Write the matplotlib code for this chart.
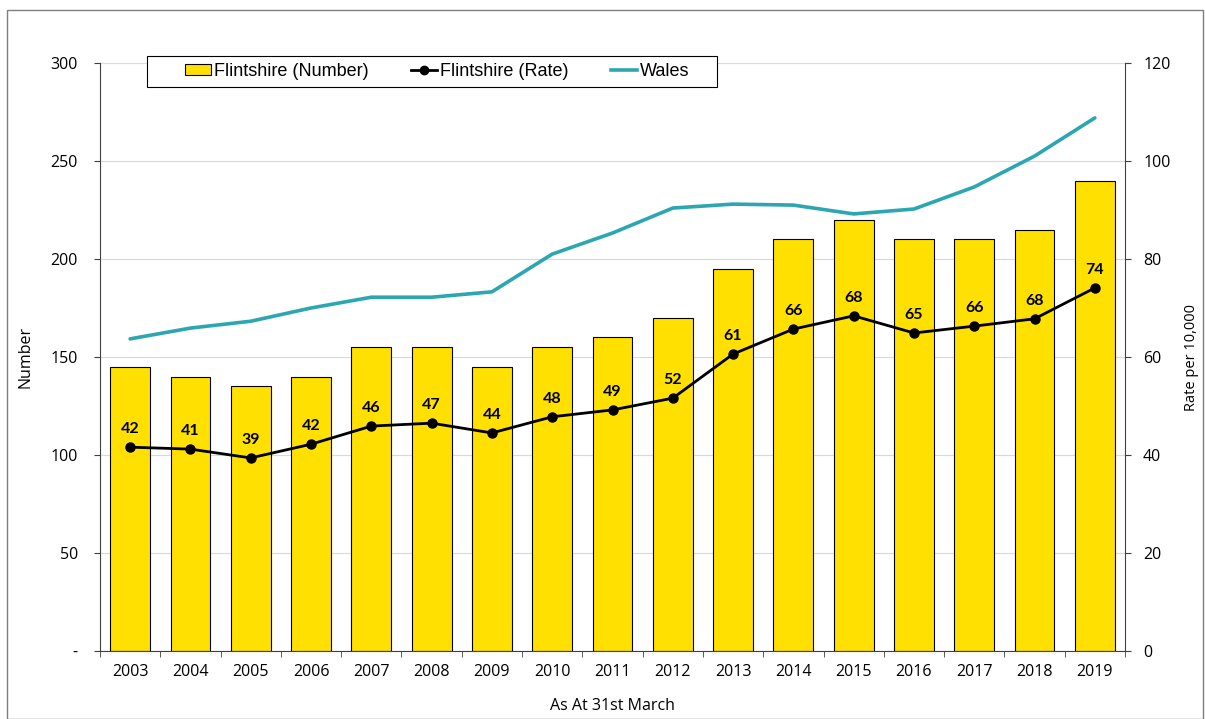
import matplotlib
matplotlib.use("Agg")
import matplotlib.pyplot as plt
from matplotlib.patches import Rectangle
from matplotlib.lines import Line2D
import numpy as np

years = ["2003", "2004", "2005", "2006", "2007", "2008", "2009", "2010", "2011",
         "2012", "2013", "2014", "2015", "2016", "2017", "2018", "2019"]
flint_number = [145, 140, 135, 140, 155, 155, 145, 155, 160, 170, 195, 210, 220, 210, 210, 215, 240]
flint_rate = [41.6, 41.2, 39.4, 42.2, 45.9, 46.5, 44.5, 47.8, 49.2, 51.6, 60.6, 65.7, 68.4, 64.9, 66.3, 67.8, 74.1]
rate_labels = ["42", "41", "39", "42", "46", "47", "44", "48", "49", "52", "61", "66", "68", "65", "66", "68", "74"]
wales_rate = [63.7, 65.9, 67.3, 70.0, 72.2, 72.2, 73.3, 81.0, 85.3, 90.4, 91.2, 91.0, 89.2, 90.2, 94.7, 101.0, 108.8]

left_ticks = [0, 50, 100, 150, 200, 250, 300]
left_ticklabels = ["-", "50", "100", "150", "200", "250", "300"]
right_ticks = [0, 20, 40, 60, 80, 100, 120]

W, H = 1205, 719
fig = plt.figure(figsize=(W / 100, H / 100), dpi=100)
fig.patches.append(Rectangle((7 / W, 0), (W - 9) / W, 1 - 10 / H, transform=fig.transFigure,
                             fill=False, edgecolor="#7f7f7f", linewidth=1.0))

ax = fig.add_axes([100 / W, 1 - 651 / H, (1125 - 100) / W, (651 - 63) / H])
ax2 = ax.twinx()

FAM = ["Open Sans", "DejaVu Sans"]
FS = 11.5

x = np.arange(len(years))
ax.bar(x, flint_number, width=0.66, color="#FFE000", edgecolor="black", linewidth=0.8, zorder=2)
ax.set_xlim(-0.5, len(years) - 0.5)
ax.set_ylim(0, 300)
ax.set_yticks(left_ticks)
ax.set_yticklabels(left_ticklabels)
ax.yaxis.grid(True, color="#d9d9d9", linewidth=0.8, zorder=0)
ax.set_axisbelow(True)
ax.set_xticks(x)
ax.set_xticklabels(years)
ax.set_xticks(np.arange(-0.5, len(years) + 0.5, 1), minor=True)
ax.tick_params(axis="x", which="major", length=0, pad=9)
ax.tick_params(axis="x", which="minor", length=4, direction="out", color="#404040")
ax.tick_params(axis="y", length=4, direction="out", color="#404040", pad=12)
for s in ["top", "right"]:
    ax.spines[s].set_visible(False)
ax.spines["left"].set_color("#404040")
ax.spines["bottom"].set_color("#404040")

for lab in ax.get_xticklabels() + ax.get_yticklabels():
    lab.set_fontfamily(FAM)
    lab.set_fontsize(FS)
ax.set_xlabel("As At 31st March", fontfamily=FAM, fontsize=FS, labelpad=13)
ax.set_ylabel("Number", fontfamily=FAM, fontsize=FS, labelpad=12)

ax2.set_ylim(0, 120)
ax2.set_yticks(right_ticks)
ax2.tick_params(axis="y", length=4, direction="out", color="#404040", pad=9)
for lab in ax2.get_yticklabels():
    lab.set_fontfamily(FAM)
    lab.set_fontsize(FS)
for s in ["top", "left", "bottom"]:
    ax2.spines[s].set_visible(False)
ax2.spines["right"].set_color("#404040")
ax2.set_ylabel("Rate per 10,000", fontfamily=FAM, fontsize=10.5, labelpad=10)

ax2.plot(x, wales_rate, color="#2CA6B0", linewidth=2.6, zorder=3, solid_capstyle="round")
ax2.plot(x, flint_rate, color="black", linewidth=2.0, marker="o", markersize=6.5, zorder=4)
for xi, v, t in zip(x, flint_rate, rate_labels):
    ax2.annotate(t, (xi, v), xytext=(0, 8), textcoords="offset points", ha="center", va="bottom",
                 fontsize=11.5, fontweight="bold", fontfamily=["Lato", "DejaVu Sans"], zorder=5)

# legend frame drawn separately (wide padding as in reference)
frame = Rectangle((147 / W, 1 - 87 / H), (717 - 147) / W, (87 - 56) / H, transform=fig.transFigure,
                  facecolor="white", edgecolor="black", linewidth=0.8, zorder=9, clip_on=False)
ax2.add_patch(frame)

handles = [Rectangle((0, 0), 1, 1, facecolor="#FFE000", edgecolor="black", linewidth=0.8),
           Line2D([], [], color="black", linewidth=2, marker="o", markersize=6),
           Line2D([], [], color="#2CA6B0", linewidth=2.6)]
labels = ["Flintshire (Number)", "Flintshire (Rate)", "Wales"]
leg = ax2.legend(handles, labels, ncol=3, loc="center left",
                 bbox_to_anchor=(185 / W, 1 - 71.5 / H), bbox_transform=fig.transFigure,
                 frameon=False,
                 prop={"family": ["Liberation Sans", "DejaVu Sans"], "size": 13},
                 handlelength=1.45, handleheight=0.5, handletextpad=0.15, columnspacing=2.35,
                 borderpad=0, borderaxespad=0)
leg.set_zorder(10)

fig.savefig("out.png", dpi=100)
